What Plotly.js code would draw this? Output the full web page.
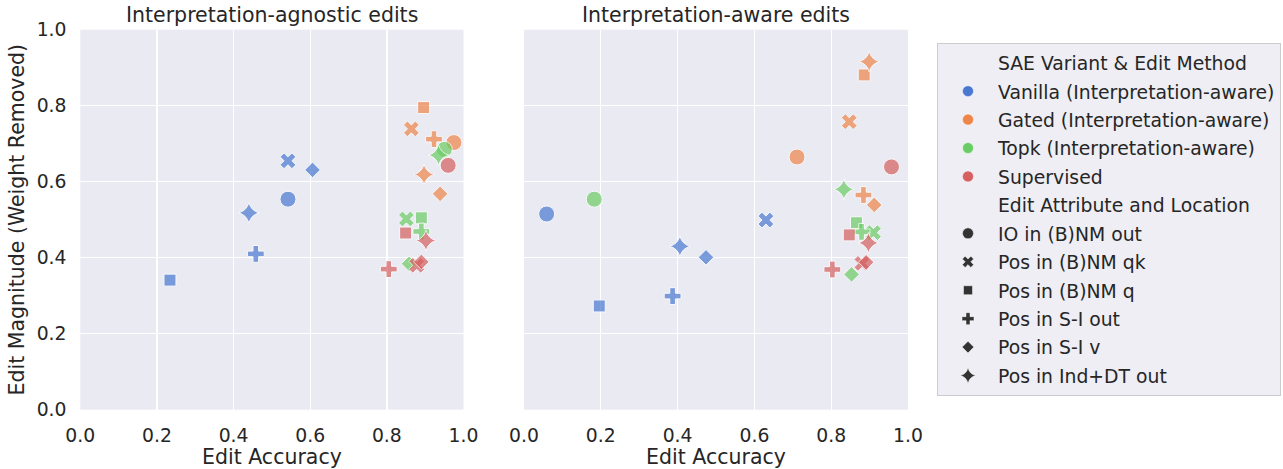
<!DOCTYPE html>
<html>
<head>
<meta charset="utf-8">
<script src="https://cdn.plot.ly/plotly-3.0.1.min.js"></script>
<style>html,body{margin:0;padding:0;background:#fff;}#chart{width:1283px;height:469px;}</style>
</head>
<body>
<div id="chart"></div>
<script>
// ---- data ----
const variants = ['Vanilla (Interpretation-aware)', 'Gated (Interpretation-aware)', 'Topk (Interpretation-aware)', 'Supervised'];
const variantColors = ['#4878d0', '#ee854a', '#6acc64', '#d65f5f'];
const attributes = ['IO in (B)NM out', 'Pos in (B)NM qk', 'Pos in (B)NM q', 'Pos in S-I out', 'Pos in S-I v', 'Pos in Ind+DT out'];
const attrSymbols = ['circle', 'x', 'square', 'cross', 'diamond', 'star-diamond'];
const attrSizes = [16, 14, 12, 14, 12, 15];
const attrLegendSizes = [11, 10, 9, 10, 9, 11];
const panelTitles = ['Interpretation-agnostic edits', 'Interpretation-aware edits'];

// Interpretation-agnostic edits (per variant, in attribute order)
const agnosticAccuracy = [
  [0.542, 0.542, 0.234, 0.458, 0.606, 0.440],
  [0.975, 0.864, 0.896, 0.923, 0.939, 0.897],
  [0.950, 0.851, 0.890, 0.890, 0.858, 0.935],
  [0.960, 0.878, 0.849, 0.805, 0.890, 0.902]
];
const agnosticMagnitude = [
  [0.554, 0.655, 0.341, 0.410, 0.631, 0.518],
  [0.703, 0.739, 0.795, 0.712, 0.568, 0.619],
  [0.685, 0.502, 0.505, 0.469, 0.384, 0.670],
  [0.643, 0.380, 0.465, 0.370, 0.389, 0.445]
];
// Interpretation-aware edits
const awareAccuracy = [
  [0.059, 0.630, 0.196, 0.387, 0.474, 0.406],
  [0.711, 0.847, 0.886, 0.884, 0.912, 0.899],
  [0.183, 0.910, 0.866, 0.879, 0.853, 0.833],
  [0.957, 0.880, 0.847, 0.803, 0.891, 0.897]
];
const awareMagnitude = [
  [0.515, 0.499, 0.273, 0.299, 0.401, 0.430],
  [0.665, 0.758, 0.881, 0.565, 0.539, 0.916],
  [0.554, 0.466, 0.492, 0.468, 0.356, 0.580],
  [0.639, 0.385, 0.460, 0.369, 0.388, 0.439]
];

// ---- traces ----
const traces = [];
const panels = [[agnosticAccuracy, agnosticMagnitude, 'x', 'y'], [awareAccuracy, awareMagnitude, 'x2', 'y2']];
panels.forEach(([accs, mags, xa, ya]) => {
  variants.forEach((v, i) => {
    traces.push({
      type: 'scatter', mode: 'markers', xaxis: xa, yaxis: ya,
      x: accs[i], y: mags[i], name: v, showlegend: false,
      text: attributes,
      marker: {
        color: variantColors[i], opacity: 0.7,
        symbol: attrSymbols, size: attrSizes,
        line: {color: '#ffffff', width: 1}
      }
    });
  });
});

// legend entries
function header(name) {
  return {type: 'scatter', mode: 'markers', x: [null], y: [null], name: name, legendgroup: name,
          showlegend: true, marker: {color: 'rgba(0,0,0,0)', size: 1, line: {width: 0}}};
}
traces.push(header('SAE Variant & Edit Method'));
variants.forEach((v, i) => traces.push({
  type: 'scatter', mode: 'markers', x: [null], y: [null], name: v, legendgroup: v, showlegend: true,
  marker: {color: variantColors[i], symbol: 'circle', size: 11, line: {color: '#ffffff', width: 0.5}}
}));
traces.push(header('Edit Attribute and Location'));
attributes.forEach((a, i) => traces.push({
  type: 'scatter', mode: 'markers', x: [null], y: [null], name: a, legendgroup: a, showlegend: true,
  marker: {color: '#333333', symbol: attrSymbols[i], size: attrLegendSizes[i], line: {color: '#ffffff', width: 0.5}}
}));

// ---- layout ----
const W = 1283, H = 469;
const tickFont = {family: 'DejaVu Sans', size: 18.8, color: '#262626'};
const labelFont = {family: 'DejaVu Sans', size: 20.5, color: '#262626'};
const yDom = [1 - 409.7 / H, 1 - 29.7 / H];
function xAxis(dom) {
  return {
    domain: dom, range: [0, 1], dtick: 0.2, tick0: 0, tickformat: '.1f',
    showgrid: true, gridcolor: '#ffffff', gridwidth: 1.4, zeroline: false, showline: false,
    ticks: 'outside', ticklen: 9, tickcolor: 'rgba(0,0,0,0)', tickfont: tickFont,
    title: {text: 'Edit Accuracy', font: labelFont, standoff: 6}, fixedrange: true
  };
}
const layout = {
  width: W, height: H,
  margin: {l: 0, r: 0, t: 0, b: 0},
  paper_bgcolor: '#ffffff', plot_bgcolor: '#eaeaf2',
  font: {family: 'DejaVu Sans', color: '#262626'},
  xaxis: xAxis([80.3 / W, 463.5 / W]),
  xaxis2: xAxis([524 / W, 908 / W]),
  yaxis: {
    domain: yDom, range: [0, 1], dtick: 0.2, tick0: 0, tickformat: '.1f',
    showgrid: true, gridcolor: '#ffffff', gridwidth: 1.4, zeroline: false, showline: false,
    ticks: 'outside', ticklen: 9, tickcolor: 'rgba(0,0,0,0)', tickfont: tickFont,
    title: {text: 'Edit Magnitude (Weight Removed)', font: labelFont, standoff: 6}, fixedrange: true
  },
  yaxis2: {
    domain: yDom, range: [0, 1], dtick: 0.2, tick0: 0, anchor: 'x2', matches: 'y',
    showgrid: true, gridcolor: '#ffffff', gridwidth: 1.4, zeroline: false, showline: false,
    showticklabels: false, ticks: '', fixedrange: true
  },
  annotations: [
    {text: panelTitles[0], xref: 'x domain', yref: 'paper', x: 0.5, y: 1 - 15 / H, xanchor: 'center', yanchor: 'middle', showarrow: false, font: labelFont},
    {text: panelTitles[1], xref: 'x2 domain', yref: 'paper', x: 0.5, y: 1 - 15 / H, xanchor: 'center', yanchor: 'middle', showarrow: false, font: labelFont}
  ],
  showlegend: true,
  legend: {
    x: 937 / W, y: 1 - 43 / H, xanchor: 'left', yanchor: 'top',
    bgcolor: '#eeeef4', bordercolor: '#cccccc', borderwidth: 1,
    font: tickFont, traceorder: 'grouped', tracegroupgap: 1, itemwidth: 50,
    itemclick: false, itemdoubleclick: false
  }
};

Plotly.newPlot('chart', traces, layout, {displayModeBar: false, staticPlot: true});
</script>
</body>
</html>
